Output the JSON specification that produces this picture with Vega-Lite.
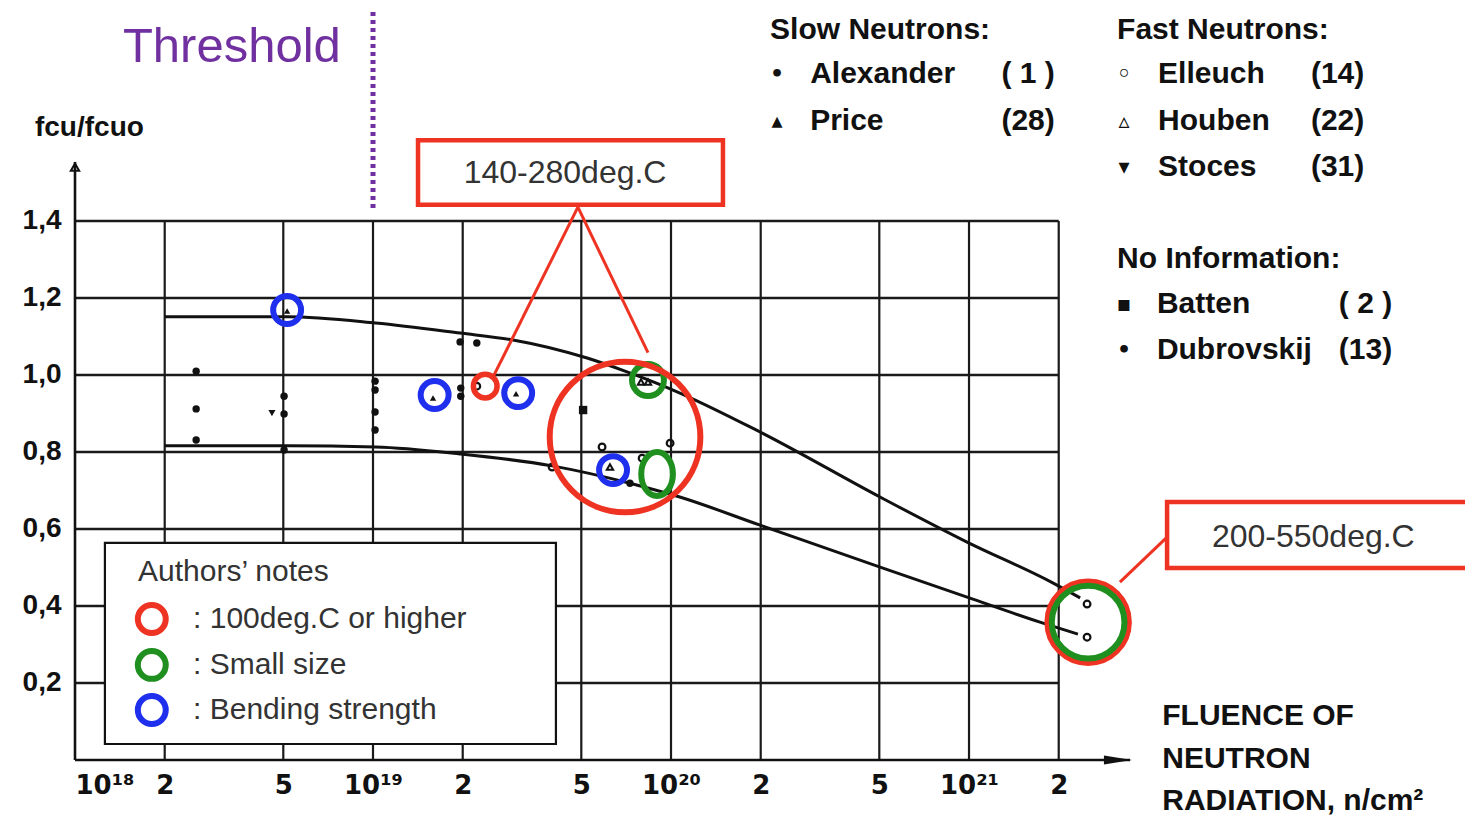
{
  "$schema": "https://vega.github.io/schema/vega-lite/v6.json",
  "width": 1390,
  "height": 760,
  "autosize": {"type": "none"},
  "padding": {"left": 75, "top": 0, "right": 0, "bottom": 57},
  "background": "white",
  "config": {
    "view": {"stroke": null},
    "axis": {"domain": false, "ticks": false, "grid": false, "labelFont": "Liberation Sans", "labelFontWeight": "bold", "labelFontSize": 28, "labelColor": "#111"}
  },
  "datasets": {
    "vgrid": [
      {"x": 2e18, "y": 0, "y2": 1.4}, {"x": 5e18, "y": 0, "y2": 1.4}, {"x": 1e19, "y": 0, "y2": 1.4},
      {"x": 2e19, "y": 0, "y2": 1.4}, {"x": 5e19, "y": 0, "y2": 1.4}, {"x": 1e20, "y": 0, "y2": 1.4},
      {"x": 2e20, "y": 0, "y2": 1.4}, {"x": 5e20, "y": 0, "y2": 1.4}, {"x": 1e21, "y": 0, "y2": 1.4},
      {"x": 2e21, "y": 0, "y2": 1.4}
    ],
    "hgrid": [
      {"x": 1e18, "x2": 2e21, "y": 0.2}, {"x": 1e18, "x2": 2e21, "y": 0.4}, {"x": 1e18, "x2": 2e21, "y": 0.6},
      {"x": 1e18, "x2": 2e21, "y": 0.8}, {"x": 1e18, "x2": 2e21, "y": 1.0}, {"x": 1e18, "x2": 2e21, "y": 1.2},
      {"x": 1e18, "x2": 2e21, "y": 1.4}
    ],
    "axislines": [
      {"x": 1e18, "y": 0, "x2": 3.47e21, "y2": 0},
      {"x": 1e18, "y": 0, "x2": 1e18, "y2": 1.553}
    ],
    "curves": [
      {"curve": "upper", "x": 2.0e18, "y": 1.151}, {"curve": "upper", "x": 5.15e18, "y": 1.151},
      {"curve": "upper", "x": 1.02e19, "y": 1.135}, {"curve": "upper", "x": 1.96e19, "y": 1.109},
      {"curve": "upper", "x": 2.95e19, "y": 1.091}, {"curve": "upper", "x": 5.23e19, "y": 1.044},
      {"curve": "upper", "x": 7.12e19, "y": 1.008}, {"curve": "upper", "x": 1.016e20, "y": 0.961},
      {"curve": "upper", "x": 1.99e20, "y": 0.852},
      {"curve": "upper", "x": 5.03e20, "y": 0.683}, {"curve": "upper", "x": 9.85e20, "y": 0.566},
      {"curve": "upper", "x": 1.91e21, "y": 0.46}, {"curve": "upper", "x": 2.36e21, "y": 0.421},
      {"curve": "lower", "x": 2.0e18, "y": 0.816}, {"curve": "lower", "x": 5.15e18, "y": 0.816},
      {"curve": "lower", "x": 1.02e19, "y": 0.813}, {"curve": "lower", "x": 1.96e19, "y": 0.795},
      {"curve": "lower", "x": 3.99e19, "y": 0.764}, {"curve": "lower", "x": 7.28e19, "y": 0.719},
      {"curve": "lower", "x": 1.07e20, "y": 0.683},
      {"curve": "lower", "x": 1.99e20, "y": 0.61}, {"curve": "lower", "x": 5.03e20, "y": 0.501},
      {"curve": "lower", "x": 9.85e20, "y": 0.423}, {"curve": "lower", "x": 1.73e21, "y": 0.358},
      {"curve": "lower", "x": 2.32e21, "y": 0.327}
    ],
    "points": [
      {"author": "Alexander", "x": 2.55e18, "y": 1.01}, {"author": "Alexander", "x": 2.55e18, "y": 0.912},
      {"author": "Alexander", "x": 2.55e18, "y": 0.831}, {"author": "Alexander", "x": 5.03e18, "y": 0.945},
      {"author": "Alexander", "x": 5.03e18, "y": 0.899}, {"author": "Alexander", "x": 5.03e18, "y": 0.805},
      {"author": "Alexander", "x": 1.016e19, "y": 0.984}, {"author": "Alexander", "x": 1.016e19, "y": 0.961},
      {"author": "Alexander", "x": 1.016e19, "y": 0.904}, {"author": "Alexander", "x": 1.016e19, "y": 0.857},
      {"author": "Alexander", "x": 1.96e19, "y": 1.086}, {"author": "Alexander", "x": 2.23e19, "y": 1.083},
      {"author": "Alexander", "x": 1.97e19, "y": 0.966}, {"author": "Alexander", "x": 1.97e19, "y": 0.945},
      {"author": "Alexander", "x": 7.28e19, "y": 0.719},
      {"author": "Price", "x": 5.15e18, "y": 1.166}, {"author": "Price", "x": 1.59e19, "y": 0.94},
      {"author": "Price", "x": 3.02e19, "y": 0.951},
      {"author": "Houben", "x": 7.93e19, "y": 0.982}, {"author": "Houben", "x": 8.37e19, "y": 0.982},
      {"author": "Houben", "x": 6.24e19, "y": 0.761},
      {"author": "Stoces", "x": 4.58e18, "y": 0.901},
      {"author": "Elleuch", "x": 2.23e19, "y": 0.971}, {"author": "Elleuch", "x": 5.87e19, "y": 0.813},
      {"author": "Elleuch", "x": 9.93e19, "y": 0.823}, {"author": "Elleuch", "x": 3.99e19, "y": 0.761},
      {"author": "Elleuch", "x": 8.0e19, "y": 0.784}, {"author": "Elleuch", "x": 2.49e21, "y": 0.405},
      {"author": "Elleuch", "x": 2.49e21, "y": 0.319},
      {"author": "Batten", "x": 5.07e19, "y": 0.909}
    ],
    "rings": [
      {"group": "small", "note": "Bending strength", "x": 5.15e18, "y": 1.169},
      {"group": "small", "note": "Bending strength", "x": 1.61e19, "y": 0.948},
      {"group": "small", "note": "Bending strength", "x": 3.07e19, "y": 0.953},
      {"group": "small", "note": "Bending strength", "x": 6.39e19, "y": 0.753},
      {"group": "small", "note": "100deg.C or higher", "x": 1.81e18, "y": 0.366},
      {"group": "small", "note": "Small size", "x": 1.81e18, "y": 0.247},
      {"group": "small", "note": "Bending strength", "x": 1.81e18, "y": 0.13},
      {"group": "tiny", "note": "100deg.C or higher", "x": 2.38e19, "y": 0.971},
      {"group": "mid", "note": "Small size", "x": 8.37e19, "y": 0.987},
      {"group": "ellipse", "note": "Small size", "x": 8.98e19, "y": 0.743},
      {"group": "huge", "note": "100deg.C or higher", "x": 7.01e19, "y": 0.839},
      {"group": "bigred", "note": "100deg.C or higher", "x": 2.51e21, "y": 0.358},
      {"group": "biggreen", "note": "Small size", "x": 2.51e21, "y": 0.358}
    ],
    "boxes": [
      {"x": 1.416e19, "x2": 1.494e20, "y": 1.442, "y2": 1.61},
      {"x": 4.62e21, "x2": 5.0e22, "y": 0.499, "y2": 0.67}
    ],
    "leaders": [
      {"x": 4.87e19, "y": 1.436, "x2": 2.51e19, "y2": 0.99},
      {"x": 4.87e19, "y": 1.436, "x2": 8.37e19, "y2": 1.058},
      {"x": 4.62e21, "y": 0.579, "x2": 3.21e21, "y2": 0.462}
    ]
  },
  "encoding": {
    "x": {
      "field": "x", "type": "quantitative",
      "scale": {"type": "log", "domain": [1e18, 4.617e22], "nice": false},
      "axis": {
        "title": null, "labelPadding": 12, "labelBaseline": "top", "labelFont": "DejaVu Sans", "labelFontSize": 26,
        "values": [1e18, 2e18, 5e18, 1e19, 2e19, 5e19, 1e20, 2e20, 5e20, 1e21, 2e21],
        "labelExpr": "datum.value < 1.5e18 ? '10¹⁸' : datum.value < 3e18 ? '2' : datum.value < 7e18 ? '5' : datum.value < 1.5e19 ? '10¹⁹' : datum.value < 3e19 ? '2' : datum.value < 7e19 ? '5' : datum.value < 1.5e20 ? '10²⁰' : datum.value < 3e20 ? '2' : datum.value < 7e20 ? '5' : datum.value < 1.5e21 ? '10²¹' : '2'"
      }
    },
    "y": {
      "field": "y", "type": "quantitative",
      "scale": {"domain": [0, 1.974], "nice": false, "zero": false},
      "axis": {
        "title": null, "labelPadding": 14,
        "values": [0.2, 0.4, 0.6, 0.8, 1.0, 1.2, 1.4],
        "labelExpr": "replace(format(datum.value, '.1f'), '.', ',')"
      }
    }
  },
  "layer": [
    {"data": {"name": "vgrid"}, "mark": {"type": "rule", "color": "#1a1a1a", "strokeWidth": 2.2},
     "encoding": {"y2": {"field": "y2"}}},
    {"data": {"name": "hgrid"}, "mark": {"type": "rule", "color": "#1a1a1a", "strokeWidth": 2.4},
     "encoding": {"x2": {"field": "x2"}}},
    {"data": {"name": "axislines"}, "mark": {"type": "rule", "color": "#111", "strokeWidth": 2.6},
     "encoding": {"x2": {"field": "x2"}, "y2": {"field": "y2"}}},
    {"data": {"values": [{"x": 3.16e21, "y": 0}]},
     "mark": {"type": "point", "shape": "M -1 -0.32 L 1 0 L -1 0.32 Z", "filled": true, "color": "#111", "size": 784, "opacity": 1}},
    {"data": {"values": [{"x": 1e18, "y": 1.54}]},
     "mark": {"type": "point", "shape": "triangle-up", "filled": false, "color": "#111", "strokeWidth": 2, "size": 70, "opacity": 1}},
    {"data": {"name": "curves"}, "mark": {"type": "line", "color": "#111", "strokeWidth": 3, "interpolate": "monotone"},
     "encoding": {"detail": {"field": "curve"}}},
    {"data": {"name": "points"}, "transform": [{"filter": "datum.author === 'Alexander'"}],
     "mark": {"type": "point", "shape": "circle", "filled": true, "color": "#111", "size": 55, "opacity": 1}},
    {"data": {"name": "points"}, "transform": [{"filter": "datum.author === 'Price'"}],
     "mark": {"type": "point", "shape": "triangle-up", "filled": true, "color": "#111", "size": 40, "opacity": 1}},
    {"data": {"name": "points"}, "transform": [{"filter": "datum.author === 'Houben'"}],
     "mark": {"type": "point", "shape": "triangle-up", "filled": false, "color": "#111", "strokeWidth": 2, "size": 40, "opacity": 1}},
    {"data": {"name": "points"}, "transform": [{"filter": "datum.author === 'Stoces'"}],
     "mark": {"type": "point", "shape": "triangle-down", "filled": true, "color": "#111", "size": 50, "opacity": 1}},
    {"data": {"name": "points"}, "transform": [{"filter": "datum.author === 'Elleuch'"}],
     "mark": {"type": "point", "shape": "circle", "filled": false, "color": "#111", "strokeWidth": 2.2, "size": 45, "opacity": 1}},
    {"data": {"name": "points"}, "transform": [{"filter": "datum.author === 'Batten'"}],
     "mark": {"type": "point", "shape": "square", "filled": true, "color": "#111", "size": 70, "opacity": 1}},
    {"data": {"values": [{"x": 1e19, "y": 1.434, "y2": 1.943}]},
     "mark": {"type": "rule", "color": "#7030a0", "strokeWidth": 5, "strokeDash": [4, 4]},
     "encoding": {"y2": {"field": "y2"}}},
    {"data": {"values": [{"x": 1.26e18, "x2": 4.11e19, "y": 0.0416, "y2": 0.564}]},
     "mark": {"type": "rect", "fill": "white", "stroke": "#111", "strokeWidth": 2.2},
     "encoding": {"x2": {"field": "x2"}, "y2": {"field": "y2"}}},
    {"data": {"name": "rings"}, "transform": [{"filter": "datum.group === 'small'"}],
     "mark": {"type": "point", "shape": "circle", "filled": false, "strokeWidth": 6, "size": 780, "opacity": 1},
     "encoding": {"color": {"field": "note", "type": "nominal", "legend": null,
       "scale": {"domain": ["100deg.C or higher", "Small size", "Bending strength"], "range": ["#ee3322", "#1f8f1f", "#1f2fee"]}}}},
    {"data": {"name": "rings"}, "transform": [{"filter": "datum.group === 'tiny'"}],
     "mark": {"type": "point", "shape": "circle", "filled": false, "strokeWidth": 5.5, "size": 560, "opacity": 1},
     "encoding": {"color": {"field": "note", "type": "nominal", "legend": null}}},
    {"data": {"name": "rings"}, "transform": [{"filter": "datum.group === 'mid'"}],
     "mark": {"type": "point", "shape": "circle", "filled": false, "strokeWidth": 6, "size": 1018, "opacity": 1},
     "encoding": {"color": {"field": "note", "type": "nominal", "legend": null}}},
    {"data": {"name": "rings"}, "transform": [{"filter": "datum.group === 'ellipse'"}],
     "mark": {"type": "point", "shape": "M 0 -1 A 0.72 1 0 1 1 0 1 A 0.72 1 0 1 1 0 -1 Z", "filled": false, "strokeWidth": 6, "size": 1936, "opacity": 1},
     "encoding": {"color": {"field": "note", "type": "nominal", "legend": null}}},
    {"data": {"name": "rings"}, "transform": [{"filter": "datum.group === 'huge'"}],
     "mark": {"type": "point", "shape": "circle", "filled": false, "strokeWidth": 6, "size": 22698, "opacity": 1},
     "encoding": {"color": {"field": "note", "type": "nominal", "legend": null}}},
    {"data": {"name": "rings"}, "transform": [{"filter": "datum.group === 'bigred'"}],
     "mark": {"type": "point", "shape": "circle", "filled": false, "strokeWidth": 5, "size": 6800, "opacity": 1},
     "encoding": {"color": {"field": "note", "type": "nominal", "legend": null}}},
    {"data": {"name": "rings"}, "transform": [{"filter": "datum.group === 'biggreen'"}],
     "mark": {"type": "point", "shape": "circle", "filled": false, "strokeWidth": 6, "size": 5281, "opacity": 1},
     "encoding": {"color": {"field": "note", "type": "nominal", "legend": null}}},
    {"data": {"name": "leaders"}, "mark": {"type": "rule", "color": "#ee3322", "strokeWidth": 3},
     "encoding": {"x2": {"field": "x2"}, "y2": {"field": "y2"}}},
    {"data": {"name": "boxes"}, "mark": {"type": "rect", "fill": "white", "stroke": "#ee3322", "strokeWidth": 4.5},
     "encoding": {"x2": {"field": "x2"}, "y2": {"field": "y2"}}},
    {"data": {"values": [{"x": 3.36e18, "y": 1.813, "t": "Threshold"}]},
     "mark": {"type": "text", "font": "Liberation Sans", "fontSize": 49, "color": "#7030a0", "align": "center", "baseline": "alphabetic"},
     "encoding": {"text": {"field": "t"}}},
    {"data": {"values": [{"x": 4.41e19, "y": 1.525, "t": "140-280deg.C"}, {"x": 1.43e22, "y": 0.579, "t": "200-550deg.C"}]},
     "mark": {"type": "text", "font": "Liberation Sans", "fontSize": 32, "color": "#333", "align": "center", "baseline": "middle"},
     "encoding": {"text": {"field": "t"}}},
    {"data": {"values": [
      {"x": 1.627e18, "y": 0.488, "t": "Authors’ notes"},
      {"x": 2.49e18, "y": 0.366, "t": ": 100deg.C or higher"},
      {"x": 2.49e18, "y": 0.247, "t": ": Small size"},
      {"x": 2.49e18, "y": 0.13, "t": ": Bending strength"}]},
     "mark": {"type": "text", "font": "Liberation Sans", "fontSize": 30, "color": "#333", "align": "left", "baseline": "middle"},
     "encoding": {"text": {"field": "t"}}},
    {"data": {"values": [
      {"x": 2.15e20, "y": 1.896, "t": "Slow Neutrons:"},
      {"x": 2.93e20, "y": 1.782, "t": "Alexander"},
      {"x": 2.93e20, "y": 1.66, "t": "Price"},
      {"x": 3.14e21, "y": 1.896, "t": "Fast Neutrons:"},
      {"x": 4.31e21, "y": 1.782, "t": "Elleuch"},
      {"x": 4.31e21, "y": 1.66, "t": "Houben"},
      {"x": 4.31e21, "y": 1.54, "t": "Stoces"},
      {"x": 3.14e21, "y": 1.301, "t": "No Information:"},
      {"x": 4.27e21, "y": 1.184, "t": "Batten"},
      {"x": 4.27e21, "y": 1.065, "t": "Dubrovskij"},
      {"x": 4.45e21, "y": 0.114, "t": "FLUENCE  OF"},
      {"x": 4.45e21, "y": 0.0026, "t": "NEUTRON"},
      {"x": 4.45e21, "y": -0.106, "t": "RADIATION, n/cm²"}]},
     "mark": {"type": "text", "font": "Liberation Sans", "fontWeight": "bold", "fontSize": 30, "color": "#111", "align": "left", "baseline": "middle"},
     "encoding": {"text": {"field": "t"}}},
    {"data": {"values": [
      {"x": 1.94e21, "y": 1.782, "t": "( 1 )"},
      {"x": 1.94e21, "y": 1.66, "t": "(28)"},
      {"x": 2.12e22, "y": 1.782, "t": "(14)"},
      {"x": 2.12e22, "y": 1.66, "t": "(22)"},
      {"x": 2.12e22, "y": 1.54, "t": "(31)"},
      {"x": 2.63e22, "y": 1.184, "t": "( 2 )"},
      {"x": 2.63e22, "y": 1.065, "t": "(13)"}]},
     "mark": {"type": "text", "font": "Liberation Sans", "fontWeight": "bold", "fontSize": 30, "color": "#111", "align": "right", "baseline": "middle"},
     "encoding": {"text": {"field": "t"}}},
    {"data": {"values": [
      {"x": 2.27e20, "y": 1.782, "t": "•"},
      {"x": 2.27e20, "y": 1.66, "t": "▴"},
      {"x": 3.31e21, "y": 1.782, "t": "◦"},
      {"x": 3.31e21, "y": 1.66, "t": "▵"},
      {"x": 3.31e21, "y": 1.54, "t": "▾"},
      {"x": 3.31e21, "y": 1.184, "t": "▪"},
      {"x": 3.31e21, "y": 1.065, "t": "•"}]},
     "mark": {"type": "text", "font": "DejaVu Sans", "fontWeight": "bold", "fontSize": 22, "color": "#111", "align": "center", "baseline": "middle"},
     "encoding": {"text": {"field": "t"}}},
    {"data": {"values": [{"x": 7.34e17, "y": 1.642, "t": "fcu/fcuo"}]},
     "mark": {"type": "text", "font": "Liberation Sans", "fontWeight": "bold", "fontSize": 28, "color": "#111", "align": "left", "baseline": "middle"},
     "encoding": {"text": {"field": "t"}}}
  ]
}
